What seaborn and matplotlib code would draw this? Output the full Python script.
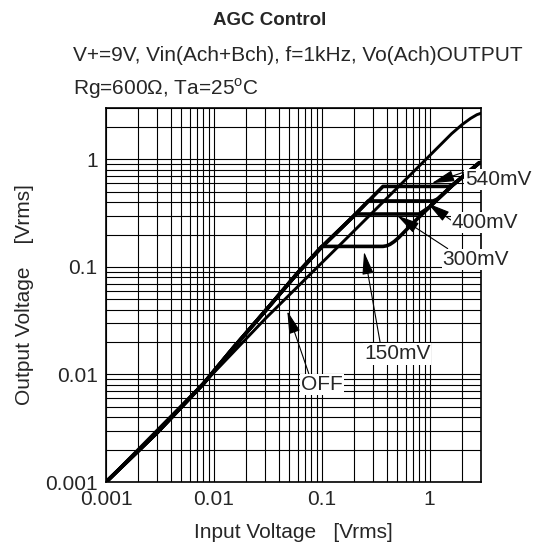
import numpy as np
import pandas as pd
import seaborn as sns
import matplotlib
matplotlib.use("Agg")
import matplotlib.pyplot as plt
from matplotlib.ticker import LogLocator, FixedFormatter, FixedLocator

sns.set_style("white")
plt.rcParams['font.family'] = ['Liberation Sans', 'DejaVu Sans']
plt.rcParams['mathtext.fontset'] = 'custom'
plt.rcParams['mathtext.rm'] = 'Liberation Sans'

# AGC path before limiting (shared by all AGC levels)
path_x = [0.001, 0.003, 0.008, 0.015, 0.03, 0.06, 0.1, 0.2, 0.37]
path_y = [0.001, 0.0029, 0.0082, 0.0175, 0.039, 0.088, 0.153, 0.30, 0.56]

# AGC levels: corner on path, end of flat part
levels = ['150mV', '300mV', '400mV', '540mV']
level_y = [0.155, 0.31, 0.41, 0.56]
corner_x = [0.1, 0.205, 0.27, 0.37]
flat_end_x = [0.37, 0.80, 1.08, 1.50]

# common rising part after the AGC runs out
rise_x = [0.40, 0.43, 0.47, 0.52, 0.7, 1.0, 1.2, 1.5, 1.65, 2.0, 2.9]
rise_y = [0.157, 0.162, 0.172, 0.188, 0.255, 0.36, 0.43, 0.53, 0.58, 0.68, 0.93]

# AGC off
off_x = [0.001, 0.01, 0.03, 0.18, 1.0, 1.6, 2.0, 2.4, 2.75, 3.0]
off_y = [0.001, 0.0104, 0.033, 0.195, 1.08, 1.73, 2.1, 2.4, 2.6, 2.68]

rows = []
for name, ly, cx, fx in zip(levels, level_y, corner_x, flat_end_x):
    xs = [x for x in path_x if x < cx] + [cx, fx]
    ys = [y for x, y in zip(path_x, path_y) if x < cx] + [ly, ly]
    for x, y in zip(rise_x, rise_y):
        if y > ly * 1.005 and x > fx:
            xs.append(x)
            ys.append(y)
    for i, (x, y) in enumerate(zip(xs, ys)):
        rows.append({'curve': name, 'order': i, 'vin': x, 'vout': y})
for i, (x, y) in enumerate(zip(off_x, off_y)):
    rows.append({'curve': 'OFF', 'order': i, 'vin': x, 'vout': y})
df = pd.DataFrame(rows)

fig = plt.figure(figsize=(5.39, 5.51), dpi=100)
ax = fig.add_axes([0.1967, 0.1252, 0.6957, 0.6788])

for name in levels:
    sub = df[df['curve'] == name]
    sns.lineplot(data=sub, x='vin', y='vout', sort=False, estimator=None,
                 color='black', lw=2.6, ax=ax, zorder=5)
sub = df[df['curve'] == 'OFF']
sns.lineplot(data=sub, x='vin', y='vout', sort=False, estimator=None,
             color='black', lw=2.1, ax=ax, zorder=5)

ax.set_xscale('log')
ax.set_yscale('log')
ax.set_xlim(0.001, 3)
ax.set_ylim(0.001, 3)

major = [0.001, 0.01, 0.1, 1]
tick_text = ['0.001', '0.01', '0.1', '1']
ax.xaxis.set_major_locator(FixedLocator(major))
ax.yaxis.set_major_locator(FixedLocator(major))
ax.xaxis.set_major_formatter(FixedFormatter(tick_text))
ax.yaxis.set_major_formatter(FixedFormatter(tick_text))
ax.xaxis.set_minor_locator(LogLocator(base=10, subs=np.arange(2, 10)))
ax.yaxis.set_minor_locator(LogLocator(base=10, subs=np.arange(2, 10)))
ax.grid(True, which='both', color='black', lw=0.8)
ax.tick_params(which='both', length=0, labelsize=15, pad=6)
for s in ax.spines.values():
    s.set_color('black')
    s.set_linewidth(1.2)

ax.set_xlabel('Input Voltage   [Vrms]', fontsize=15, labelpad=10)
ax.set_ylabel('Output Voltage    [Vrms]', fontsize=15, labelpad=8)

fig.text(0.5, 0.962, 'AGC Control', ha='center', va='center',
         fontsize=13.5, fontweight='bold')
fig.text(0.135, 0.900, 'V+=9V, Vin(Ach+Bch), f=1kHz, Vo(Ach)OUTPUT',
         ha='left', va='center', fontsize=15)
fig.text(0.135, 0.840, 'Rg=600\u03a9, Ta=25$^{\\mathrm{o}}$C', ha='left',
         va='center', fontsize=15)

labels = ['540mV', '400mV', '300mV', '150mV', 'OFF']
label_xy = [(4.3, 0.65), (3.27, 0.258), (2.69, 0.118), (0.50, 0.0155), (0.1, 0.0081)]
tip_xy = [(1.05, 0.6), (0.96, 0.39), (0.50, 0.30), (0.247, 0.138), (0.048, 0.0388)]
rel = [(0.0, 0.9), (0.0, 0.6), (0.1, 1.0), (0.25, 1.0), (0.2, 1.0)]
for t, p, tip, r in zip(labels, label_xy, tip_xy, rel):
    ax.annotate(t, xy=tip, xytext=p, ha='center', va='center', fontsize=15,
                annotation_clip=False, zorder=10,
                bbox=dict(boxstyle='square,pad=0.05', fc='white', ec='none'),
                arrowprops=dict(arrowstyle='-|>,head_length=1.0,head_width=0.25',
                                color='black', lw=0.8, shrinkA=0, shrinkB=0,
                                relpos=r, mutation_scale=14))

fig.savefig('out.png', dpi=100)
